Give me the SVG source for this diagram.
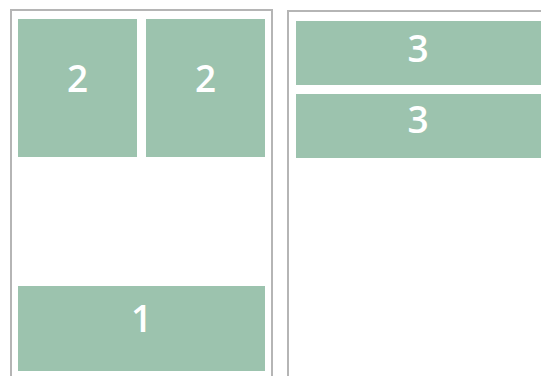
<svg xmlns="http://www.w3.org/2000/svg" width="541" height="376" viewBox="0 0 541 376">
<style>
.panel{fill:#fff;stroke:#b5b5b5;stroke-width:2}
.box{fill:#9cc3ae}
.lbl{fill:#fff;font-family:"Open Sans","Liberation Sans",sans-serif;font-size:37px;font-weight:600;text-anchor:middle}
</style>
<rect width="541" height="376" fill="#fff"/>
<g id="panel-left"><rect class="panel" x="11" y="10" width="261" height="380"/></g>
<g id="panel-right"><rect class="panel" x="288" y="11" width="300" height="380"/></g>
<g id="node-2a"><rect class="box" x="18" y="19" width="119" height="138"/><text class="lbl" x="77.5" y="92">2</text></g>
<g id="node-2b"><rect class="box" x="146" y="19" width="119" height="138"/><text class="lbl" x="205.5" y="92">2</text></g>
<g id="node-1"><rect class="box" x="18" y="286" width="247" height="85"/><text class="lbl" x="141.5" y="332">1</text></g>
<g id="node-3a"><rect class="box" x="296" y="21" width="245" height="64"/><text class="lbl" x="418" y="62">3</text></g>
<g id="node-3b"><rect class="box" x="296" y="94" width="245" height="64"/><text class="lbl" x="418" y="133">3</text></g>
<g id="connectors"></g>
</svg>
